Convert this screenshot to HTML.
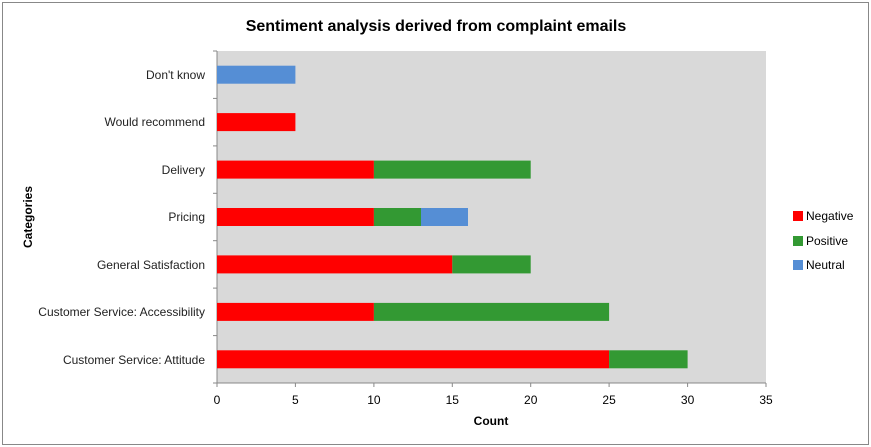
<!DOCTYPE html>
<html><head><style>body{margin:0;background:#fff}svg{display:block;font-family:"Liberation Sans",sans-serif}</style></head>
<body>
<svg width="871" height="447" xmlns="http://www.w3.org/2000/svg">
<rect x="2.5" y="2.5" width="866" height="442" fill="#fff" stroke="#888" stroke-width="1"/>
<text x="436" y="31" text-anchor="middle" font-size="16" font-weight="bold" fill="#000">Sentiment analysis derived from complaint emails</text>
<rect x="217" y="51" width="549" height="332" fill="#D9D9D9"/>
<line x1="217" y1="51" x2="217" y2="383" stroke="#888"/>
<line x1="217" y1="383" x2="766" y2="383" stroke="#888"/>
<g stroke="#888">
<line x1="213" y1="51" x2="217" y2="51"/><line x1="213" y1="98.4" x2="217" y2="98.4"/><line x1="213" y1="145.9" x2="217" y2="145.9"/><line x1="213" y1="193.3" x2="217" y2="193.3"/><line x1="213" y1="240.7" x2="217" y2="240.7"/><line x1="213" y1="288.1" x2="217" y2="288.1"/><line x1="213" y1="335.6" x2="217" y2="335.6"/><line x1="213" y1="383" x2="217" y2="383"/>
<line x1="217" y1="383" x2="217" y2="387"/><line x1="295.4" y1="383" x2="295.4" y2="387"/><line x1="373.9" y1="383" x2="373.9" y2="387"/><line x1="452.3" y1="383" x2="452.3" y2="387"/><line x1="530.7" y1="383" x2="530.7" y2="387"/><line x1="609.1" y1="383" x2="609.1" y2="387"/><line x1="687.6" y1="383" x2="687.6" y2="387"/><line x1="766" y1="383" x2="766" y2="387"/>
</g>
<g font-size="12" fill="#000" text-anchor="middle">
<text x="217" y="404">0</text><text x="295.4" y="404">5</text><text x="373.9" y="404">10</text><text x="452.3" y="404">15</text><text x="530.7" y="404">20</text><text x="609.1" y="404">25</text><text x="687.6" y="404">30</text><text x="766" y="404">35</text>
</g>
<text x="491" y="425" text-anchor="middle" font-size="12" font-weight="bold">Count</text>
<text transform="translate(32,217) rotate(-90)" text-anchor="middle" font-size="12" font-weight="bold">Categories</text>
<g font-size="12" fill="#222" text-anchor="end">
<text x="205" y="79">Don't know</text>
<text x="205" y="126">Would recommend</text>
<text x="205" y="174">Delivery</text>
<text x="205" y="221">Pricing</text>
<text x="205" y="269">General Satisfaction</text>
<text x="205" y="316">Customer Service: Accessibility</text>
<text x="205" y="364">Customer Service: Attitude</text>
</g>
<rect x="217" y="65.7" width="78.4" height="18" fill="#558ED5"/>
<rect x="217" y="113.1" width="78.4" height="18" fill="#FF0000"/>
<rect x="217" y="160.6" width="156.9" height="18" fill="#FF0000"/><rect x="373.9" y="160.6" width="156.8" height="18" fill="#339933"/>
<rect x="217" y="208" width="156.9" height="18" fill="#FF0000"/><rect x="373.9" y="208" width="47.1" height="18" fill="#339933"/><rect x="421" y="208" width="47" height="18" fill="#558ED5"/>
<rect x="217" y="255.4" width="235.3" height="18" fill="#FF0000"/><rect x="452.3" y="255.4" width="78.4" height="18" fill="#339933"/>
<rect x="217" y="302.9" width="156.9" height="18" fill="#FF0000"/><rect x="373.9" y="302.9" width="235.2" height="18" fill="#339933"/>
<rect x="217" y="350.3" width="392.1" height="18" fill="#FF0000"/><rect x="609.1" y="350.3" width="78.5" height="18" fill="#339933"/>
<rect x="793" y="211" width="10" height="10" fill="#FF0000"/><text x="806" y="220" font-size="12">Negative</text>
<rect x="793" y="236" width="10" height="10" fill="#339933"/><text x="806" y="245" font-size="12">Positive</text>
<rect x="793" y="260" width="10" height="10" fill="#558ED5"/><text x="806" y="269" font-size="12">Neutral</text>
</svg>
</body></html>
